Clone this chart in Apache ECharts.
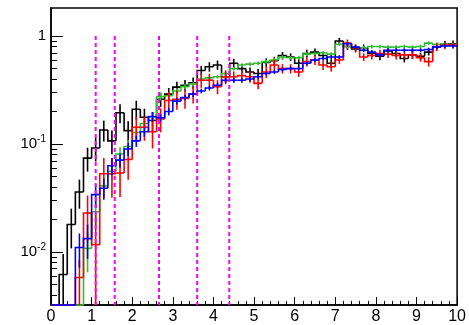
<!DOCTYPE html>
<html><head><meta charset="utf-8">
<script src="https://cdn.jsdelivr.net/npm/echarts@6/dist/echarts.min.js"></script>
<style>html,body{margin:0;padding:0;background:#fff}#c{width:469px;height:325px}</style>
</head><body><div id="c"></div>
<script>
const binCenters = [0.1,0.3,0.5,0.7,0.9,1.1,1.3,1.5,1.7,1.9,2.1,2.3,2.5,2.7,2.9,3.1,3.3,3.5,3.7,3.9,
  4.1,4.3,4.5,4.7,4.9,5.1,5.3,5.5,5.7,5.9,6.1,6.3,6.5,6.7,6.9,7.1,7.3,7.5,7.7,7.9,
  8.1,8.3,8.5,8.7,8.9,9.1,9.3,9.5,9.7,9.9];
const binWidth = 0.2;

const blackVals = [0,0.0062,0.018,0.036,0.074,0.092,0.135,0.107,0.195,0.133,
  0.21,0.177,0.165,0.26,0.29,0.337,0.35,0.37,0.48,0.52,
  0.54,0.42,0.56,0.5,0.465,0.45,0.57,0.59,0.66,0.64,
  0.56,0.69,0.71,0.66,0.56,0.9,0.8,0.76,0.78,0.69,
  0.65,0.73,0.69,0.62,0.67,0.65,0.71,0.8,0.84,0.85];
const blackRelErr = [0,0.55,0.4,0.3,0.25,0.25,0.22,0.25,0.2,0.22,
  0.2,0.2,0.2,0.15,0.14,0.12,0.12,0.12,0.1,0.1,
  0.1,0.11,0.1,0.1,0.1,0.1,0.09,0.09,0.08,0.08,
  0.09,0.08,0.08,0.08,0.09,0.07,0.07,0.07,0.07,0.07,
  0.08,0.07,0.07,0.08,0.08,0.08,0.07,0.07,0.07,0.07];

const greenVals = [0,0,0,0,0.0108,0.0236,0.041,0.056,0.081,0.095,
  0.128,0.155,0.178,0.275,0.28,0.31,0.34,0.36,0.40,0.41,
  0.42,0.45,0.5,0.54,0.55,0.56,0.58,0.6,0.64,0.63,
  0.63,0.68,0.69,0.7,0.68,0.84,0.8,0.79,0.78,0.8,
  0.8,0.79,0.79,0.8,0.79,0.8,0.86,0.84,0.84,0.84];
const greenRelErr = [0,0,0,0,0.4,0.25,0.2,0.18,0.15,0.14,
  0.12,0.1,0.1,0.08,0.07,0.06,0.06,0.05,0.05,0.05,
  0.04,0.04,0.04,0.04,0.04,0.04,0.04,0.04,0.04,0.04,
  0.04,0.04,0.04,0.04,0.04,0.04,0.04,0.04,0.04,0.04,
  0.04,0.04,0.04,0.04,0.04,0.04,0.04,0.04,0.04,0.04];

const redVals = [0,0,0,0.0058,0.023,0.0117,0.053,0.053,0.054,0.072,
  0.143,0.143,0.13,0.171,0.253,0.26,0.265,0.29,0.39,0.39,
  0.34,0.42,0.42,0.43,0.42,0.365,0.465,0.54,0.5,0.5,
  0.465,0.58,0.6,0.54,0.52,0.6,0.86,0.78,0.64,0.66,
  0.69,0.68,0.66,0.67,0.67,0.63,0.58,0.79,0.82,0.83];
const redRelErr = [0,0,0,0.45,0.45,0.9,0.4,0.4,0.4,0.35,
  0.25,0.25,0.3,0.25,0.2,0.2,0.2,0.18,0.15,0.15,
  0.15,0.15,0.12,0.12,0.12,0.12,0.12,0.12,0.1,0.1,
  0.1,0.1,0.1,0.1,0.1,0.08,0.08,0.08,0.08,0.08,
  0.08,0.08,0.08,0.08,0.08,0.08,0.1,0.08,0.08,0.08];

const blueVals = [0,0,0,0.011,0.0133,0.034,0.039,0.063,0.071,0.09,
  0.107,0.13,0.18,0.175,0.2,0.25,0.27,0.29,0.31,0.33,
  0.35,0.39,0.39,0.39,0.4,0.42,0.45,0.465,0.49,0.5,
  0.5,0.56,0.6,0.62,0.64,0.64,0.85,0.79,0.74,0.71,
  0.67,0.74,0.74,0.74,0.74,0.74,0.75,0.79,0.81,0.81];
const blueRelErr = [0,0,0,0.35,0.35,0.25,0.22,0.18,0.15,0.14,
  0.12,0.1,0.1,0.08,0.08,0.07,0.06,0.06,0.05,0.05,
  0.05,0.05,0.05,0.05,0.05,0.05,0.04,0.04,0.04,0.04,
  0.04,0.04,0.04,0.04,0.04,0.04,0.04,0.04,0.04,0.04,
  0.04,0.04,0.04,0.04,0.04,0.04,0.04,0.04,0.04,0.04];

const cutLines = [1.1, 1.57, 2.66, 3.6, 4.39];
const cutTop = 1;

const xMin = 0, xMax = 10;
const yMin = 0.00323, yMax = 1.82;
const yMajorTicks = [0.01, 0.1, 1];
const yMinorTicks = [0.004,0.005,0.006,0.007,0.008,0.009,0.02,0.03,0.04,0.05,0.06,0.07,0.08,0.09,0.2,0.3,0.4,0.5,0.6,0.7,0.8,0.9];

const LW = 1.6;
function histData(vals, rel) {
  return binCenters.map((x, i) => [x, vals[i], vals[i] * rel[i], i > 0 ? vals[i - 1] : 0]);
}
function histRender(color) {
  return function (params, api) {
    const x = api.value(0), v = api.value(1), e = api.value(2), p = api.value(3);
    const cl = t => Math.max(t, yMin);
    const lo = x - binWidth / 2, hi = x + binWidth / 2;
    const a = api.coord([lo, cl(p)]), b = api.coord([lo, cl(v)]), c = api.coord([hi, cl(v)]);
    const children = [{type: 'polyline', shape: {points: [a, b, c]}, style: {stroke: color, lineWidth: LW, fill: null}}];
    if (v > 0) {
      const t = api.coord([x, v + e]), bt = api.coord([x, cl(v - e)]);
      children.push({type: 'line', shape: {x1: t[0], y1: t[1], x2: bt[0], y2: bt[1]}, style: {stroke: color, lineWidth: LW}});
    }
    return {type: 'group', children};
  };
}
function histSeries(vals, rel, color) {
  return {type: 'custom', xAxisIndex: 0, yAxisIndex: 0, renderItem: histRender(color),
    encode: {x: 0, y: 1}, data: histData(vals, rel), silent: true};
}

const chart = echarts.init(document.getElementById('c'), null, {renderer: 'canvas'});
const font = 'Liberation Sans, Arial, Helvetica, sans-serif';
chart.setOption({
  animation: false,
  backgroundColor: '#fff',
  grid: {left: 51, right: 8, top: 8, bottom: 19, show: true, borderColor: '#000', borderWidth: 1.5, backgroundColor: 'transparent'},
  xAxis: {
    type: 'value', min: xMin, max: xMax, interval: 1,
    axisLine: {show: true, lineStyle: {color: '#000', width: 1.5}},
    axisTick: {show: true, inside: true, length: 8, lineStyle: {color: '#000', width: 1}},
    minorTick: {show: true, splitNumber: 5, length: 4, lineStyle: {color: '#000', width: 1}},
    axisLabel: {color: '#000', fontSize: 16, fontFamily: font, margin: 4, showMaxLabel: true, showMinLabel: true, hideOverlap: false},
    splitLine: {show: false}
  },
  yAxis: [{
    type: 'log', logBase: 10, min: yMin, max: yMax,
    axisLine: {show: true, lineStyle: {color: '#000', width: 1.5}},
    axisTick: {show: true, inside: true, length: 12, customValues: yMajorTicks, lineStyle: {color: '#000', width: 1}},
    axisLabel: {
      customValues: yMajorTicks, color: '#000', fontSize: 15, fontFamily: font, margin: 5,
      formatter: v => Math.abs(v - 1) < 1e-9 ? '1' : '10{s|' + Math.round(Math.log10(v)) + '}',
      rich: {s: {fontSize: 10, fontFamily: font, color: '#000', verticalAlign: 'top', padding: [0, 0, 9, 0]}}
    },
    splitLine: {show: false}
  }, {
    type: 'log', logBase: 10, min: yMin, max: yMax, position: 'left',
    axisLine: {show: false},
    axisTick: {show: true, inside: true, length: 6, customValues: yMinorTicks, lineStyle: {color: '#000', width: 1}},
    axisLabel: {show: false},
    splitLine: {show: false}
  }],
  series: [
    histSeries(blackVals, blackRelErr, '#000000'),
    histSeries(greenVals, greenRelErr, '#33bb33'),
    histSeries(redVals, redRelErr, '#ff0000'),
    histSeries(blueVals, blueRelErr, '#0000ff'),
    {
      type: 'custom', xAxisIndex: 0, yAxisIndex: 0, silent: true,
      encode: {x: 0},
      data: cutLines.map(x => [x]),
      renderItem: function (params, api) {
        const x = api.value(0);
        const t = api.coord([x, cutTop]), b = api.coord([x, yMin]);
        return {type: 'line', shape: {x1: t[0], y1: t[1], x2: b[0], y2: b[1]},
          style: {stroke: '#ff00ff', lineWidth: 2, lineDash: [4, 3]}};
      }
    }
  ]
});
</script>
</body></html>
